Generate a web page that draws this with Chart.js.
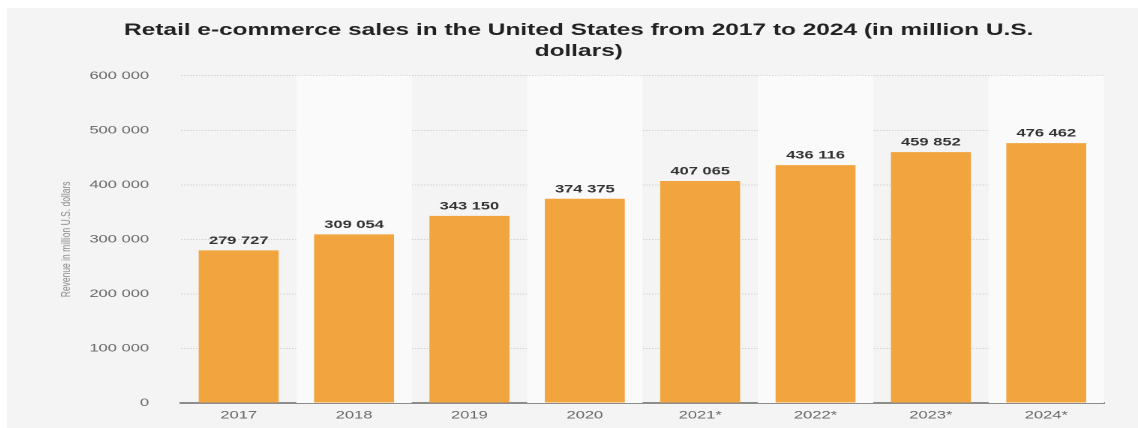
<!DOCTYPE html>
<html>
<head>
<meta charset="utf-8">
<title>Retail e-commerce sales in the United States</title>
<script src="https://cdn.jsdelivr.net/npm/chart.js@4/dist/chart.umd.min.js"></script>
<style>
  html, body { margin: 0; padding: 0; background: #ffffff; }
  #frame { position: relative; width: 1138px; height: 428px; overflow: hidden; background: #ffffff; }
  #panel { position: absolute; left: 7px; top: 8px; width: 1131px; height: 420px; background: #f4f4f4; }
  /* the chart is laid out on a narrower canvas and widened to the panel */
  #chart { position: absolute; left: 7px; top: 8px; transform: scaleX(1.5); transform-origin: 0 0; }
</style>
</head>
<body>
<div id="frame">
  <div id="panel"></div>
  <canvas id="chart" width="754" height="420"></canvas>
</div>
<script>
// Data
const years = ['2017', '2018', '2019', '2020', '2021*', '2022*', '2023*', '2024*'];
const sales = [279727, 309054, 343150, 374375, 407065, 436116, 459852, 476462];
const yTicks = [0, 100000, 200000, 300000, 400000, 500000, 600000];

const chartTitle = ['Retail e-commerce sales in the United States from 2017 to 2024 (in million U.S.', 'dollars)'];
const yAxisTitle = 'Revenue in million U.S. dollars';

const SANS = "'Liberation Sans', Arial, Helvetica, sans-serif";

// "476462" -> "476 462"
function fmt(v) {
  return String(Math.round(v)).replace(/\B(?=(\d{3})+(?!\d))/g, ' ');
}

// Alternating column shading behind the bars
const columnBands = {
  id: 'columnBands',
  beforeDatasetsDraw(chart) {
    const { ctx, chartArea, scales: { x } } = chart;
    const w = x.width / years.length;
    ctx.save();
    ctx.fillStyle = '#fafafa';
    years.forEach((_, i) => {
      if (i % 2 === 1) {
        const cx = x.getPixelForTick(i);
        ctx.fillRect(cx - w / 2, chartArea.top, w, chartArea.bottom - chartArea.top);
      }
    });
    ctx.restore();
  }
};

// Value labels above each bar
const valueLabels = {
  id: 'valueLabels',
  afterDatasetsDraw(chart) {
    const { ctx } = chart;
    const meta = chart.getDatasetMeta(0);
    ctx.save();
    ctx.font = 'bold 11px ' + SANS;
    ctx.fillStyle = '#333333';
    ctx.textAlign = 'center';
    ctx.textBaseline = 'alphabetic';
    meta.data.forEach((bar, i) => {
      ctx.fillText(fmt(sales[i]), bar.x, bar.y - 6.5);
    });
    ctx.restore();
  }
};

new Chart(document.getElementById('chart'), {
  type: 'bar',
  data: {
    labels: years,
    datasets: [{
      data: sales,
      backgroundColor: '#f2a43e',
      borderWidth: 0,
      barPercentage: 0.693,
      categoryPercentage: 1.0
    }]
  },
  options: {
    responsive: false,
    animation: false,
    devicePixelRatio: 2,
    layout: { padding: { left: 31, right: 22.7, top: 0, bottom: 0 } },
    plugins: {
      legend: { display: false },
      tooltip: { enabled: false },
      title: {
        display: true,
        text: chartTitle,
        color: '#222222',
        font: { family: SANS, size: 16.3, weight: 'bold', lineHeight: 1.28 },
        padding: { top: 12, bottom: 14 }
      }
    },
    scales: {
      x: {
        grid: { display: false, drawTicks: false },
        border: { display: true, color: '#8c8c8c', width: 2 },
        ticks: {
          color: '#666666',
          font: { family: SANS, size: 11 },
          padding: 6,
          autoSkip: false,
          maxRotation: 0
        },
        afterFit(scale) { scale.height = 25; }
      },
      y: {
        min: 0,
        max: 600000,
        afterBuildTicks(scale) { scale.ticks = yTicks.map(v => ({ value: v })); },
        grid: {
          color: '#d2d2d2',
          lineWidth: 1,
          drawTicks: true,
          tickLength: 21.3,
          tickColor: 'rgba(0,0,0,0)'
        },
        border: { display: false, dash: [1, 1] },
        ticks: {
          color: '#6a6a6a',
          font: { family: SANS, size: 11 },
          padding: 0,
          callback: (v) => fmt(v)
        },
        title: {
          display: true,
          text: yAxisTitle,
          color: '#8a8a8a',
          font: { family: SANS, size: 8.5 },
          padding: { top: 3.7, bottom: 0 }
        },
        afterFit(scale) { scale.width = 85; }
      }
    }
  },
  plugins: [columnBands, valueLabels]
});
</script>
</body>
</html>
